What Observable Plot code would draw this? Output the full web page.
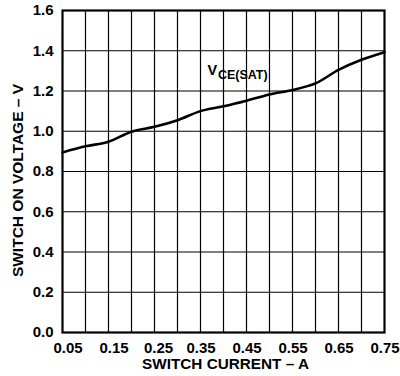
<!DOCTYPE html>
<html>
<head>
<meta charset="utf-8">
<script src="https://cdn.jsdelivr.net/npm/d3@7"></script>
<script src="https://cdn.jsdelivr.net/npm/@observablehq/plot@0.6"></script>
<style>
  html, body { margin: 0; padding: 0; background: #fff; }
  #chart svg { display: block; }
</style>
</head>
<body>
<div id="chart"></div>
<script>
// Data
const current = [0.05, 0.10, 0.15, 0.20, 0.25, 0.30, 0.35, 0.40, 0.45, 0.50, 0.55, 0.60, 0.65, 0.70, 0.75];
const vceSat  = [0.895, 0.925, 0.948, 0.998, 1.022, 1.055, 1.100, 1.124, 1.152, 1.183, 1.205, 1.238, 1.305, 1.355, 1.393];
const xTickLabelsLeft = [0.05, 0.15];
const xTickLabelsMid = [0.25];
const xTickLabelsRest = [0.35, 0.45, 0.55, 0.65, 0.75];
const xGrid = [0.10, 0.15, 0.20, 0.25, 0.30, 0.35, 0.40, 0.45, 0.50, 0.55, 0.60, 0.65, 0.70];
const yTickLabels = [0.0, 0.2, 0.4, 0.6, 0.8, 1.0, 1.2, 1.4, 1.6];
const yGrid = [0.2, 0.4, 0.6, 0.8, 1.0, 1.2, 1.4];
const seriesName = ["V", "CE(SAT)"];
const seriesLabelAnchor = [{x: 0.365, y: 1.28}];
const xTitle = "SWITCH CURRENT – A";
const yTitle = "SWITCH ON VOLTAGE – V";

const data = current.map((c, i) => ({current: c, v: vceSat[i]}));
const xAxisOpts = {tickSize: 0, tickPadding: 10, tickFormat: d => d.toFixed(2), label: null, fontSize: 15, fontWeight: "bold"};

const chart = Plot.plot({
  width: 400,
  height: 376,
  marginTop: 10,
  marginBottom: 44,
  marginLeft: 62,
  marginRight: 16,
  style: {fontFamily: "'Liberation Sans', Arial, sans-serif", fontWeight: "bold", fontSize: "15px", color: "#000", background: "#fff"},
  x: {domain: [0.05, 0.75]},
  y: {domain: [0, 1.6]},
  marks: [
    Plot.gridX(xGrid, {stroke: "#000", strokeOpacity: 1, strokeWidth: 1.2}),
    Plot.gridY(yGrid, {stroke: "#000", strokeOpacity: 1, strokeWidth: 1.2}),
    Plot.frame({stroke: "#000", strokeWidth: 2.2}),
    Plot.axisX(xTickLabelsLeft, {...xAxisOpts, dx: 5.5}),
    Plot.axisX(xTickLabelsMid, {...xAxisOpts, dx: 4}),
    Plot.axisX(xTickLabelsRest, {...xAxisOpts, dx: 0.5}),
    Plot.axisY({ticks: yTickLabels, tickSize: 0, tickPadding: 9, tickFormat: d => d.toFixed(1), label: null, fontSize: 15, fontWeight: "bold"}),
    Plot.line(data, {x: "current", y: "v", curve: "catmull-rom", stroke: "#000", strokeWidth: 2.6}),
    Plot.text(seriesLabelAnchor, {x: "x", y: "y", text: () => seriesName[0], textAnchor: "start", lineAnchor: "bottom", fontSize: 14.5, fontWeight: "bold", fill: "#000"}),
    Plot.text(seriesLabelAnchor, {x: "x", y: "y", text: () => seriesName[1], textAnchor: "start", lineAnchor: "bottom", dx: 10.5, dy: 4, fontSize: 12.5, fontWeight: "bold", fill: "#000"}),
    Plot.text([xTitle], {text: d => d, frameAnchor: "bottom", textAnchor: "middle", lineAnchor: "top", dx: 2, dy: 26, fontSize: 15.3, fontWeight: "bold", fill: "#000"}),
    Plot.text([yTitle], {text: d => d, frameAnchor: "left", textAnchor: "middle", rotate: -90, dx: -44, dy: 9, fontSize: 15.5, fontWeight: "bold", fill: "#000"})
  ]
});
document.getElementById("chart").appendChild(chart);
</script>
</body>
</html>
